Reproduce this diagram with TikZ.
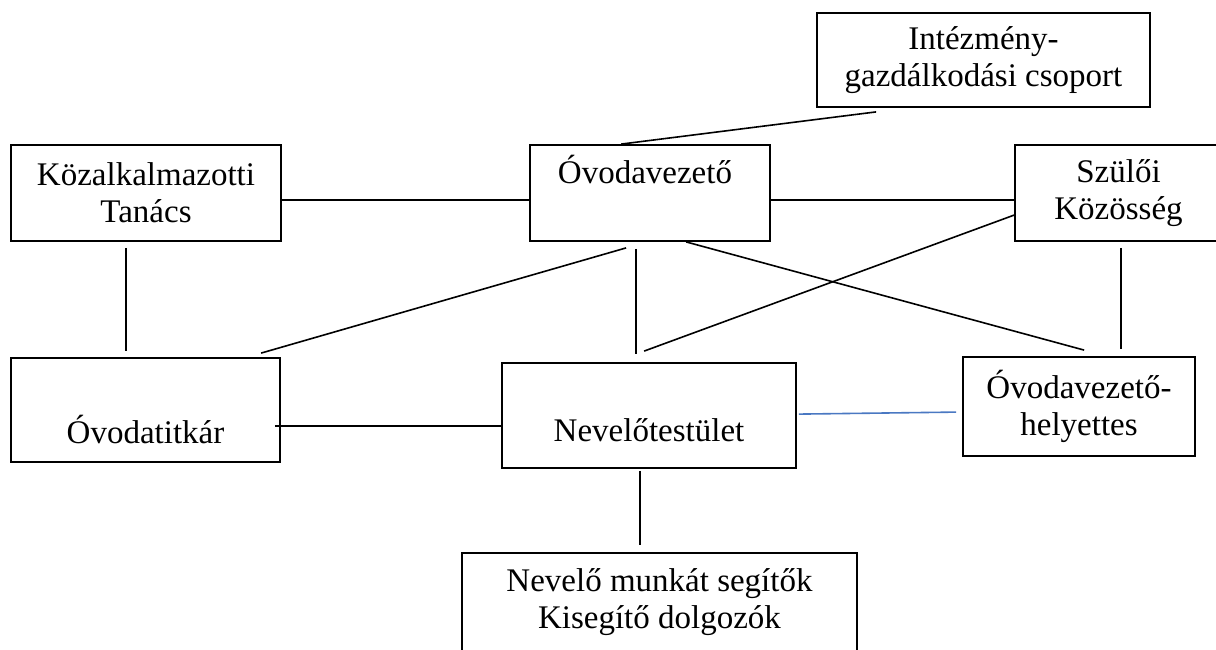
\documentclass[tikz,border=0pt]{standalone}
\usepackage{fontspec}
\setmainfont{Liberation Serif}
\usetikzlibrary{calc}
\definecolor{lnblue}{HTML}{4A78C2}
\begin{document}
\begin{tikzpicture}[x=1pt,y=-1pt,
  box/.style={draw, line width=1.8pt, rectangle, inner sep=0pt, align=center,
    font=\fontsize{33pt}{37pt}\selectfont},
  txt/.style={inner sep=0pt, align=center, font=\fontsize{33pt}{37pt}\selectfont},
  conn/.style={line width=1.6pt},
  bconn/.style={line width=1.6pt, draw=lnblue}]
\fill[white] (0,0) rectangle (1216,650);
\useasboundingbox (0,0) rectangle (1216,650);

% boxes
\node[box, minimum width=333pt, minimum height=94pt] (inst) at (983.5,60) {Intézmény-\\gazdálkodási csoport};
\node[box, minimum width=270pt, minimum height=96pt] (kozal) at (146,193) {Közalkalmazotti\\Tanács};
\node[box, minimum width=240pt, minimum height=96pt] (ovez) at (650,193) {Óvodavezető\hspace*{10pt}\\\strut};
\node[box, minimum width=207pt, minimum height=96pt] (szulo) at (1118.5,193) {Szülői\\Közösség};
\node[box, minimum width=269pt, minimum height=104pt] (titk) at (145.5,410) {\strut\\Óvodatitkár};
\node[box, minimum width=294pt, minimum height=105pt] (nev) at (649,415.5) {\strut\\[-10pt]Nevelőtestület};
\node[box, minimum width=232pt, minimum height=99pt] (hely) at (1079,406.5) {Óvodavezető-\\helyettes};
\node[box, minimum width=395pt, minimum height=160pt] (seg) at (659.5,633) {};
\node[txt] (segt) at (659.5,602) {Nevelő munkát segítők\\Kisegítő dolgozók};

% connectors
\draw[conn] ($(kozal.east)+(0,7)$) -- ($(ovez.west)+(0,7)$);
\draw[conn] ($(ovez.east)+(0,7)$) -- ($(szulo.west)+(0,7)$);
\draw[conn] ($(ovez.north west)+(92,0)$) -- ($(inst.south west)+(60,4)$);
\draw[conn] ($(kozal.south west)+(116,6)$) -- ($(titk.north west)+(116,-6)$);
\draw[conn] ($(titk.north west)+(251,-4)$) -- ($(ovez.south west)+(97,6)$);
\draw[conn] ($(ovez.south west)+(107,7)$) -- ($(nev.north west)+(135,-8)$);
\draw[conn] ($(ovez.south west)+(157,0)$) -- ($(hely.north west)+(122,-6)$);
\draw[conn] ($(szulo.north west)+(0,71)$) -- ($(nev.north west)+(143,-11)$);
\draw[conn] ($(szulo.south west)+(107,6)$) -- ($(hely.north west)+(159,-7)$);
\draw[conn] ($(titk.north east)+(-6,69)$) -- ($(nev.north west)+(2,64)$);
\draw[bconn] ($(nev.north east)+(2,52)$) -- ($(hely.north west)+(-6,56)$);
\draw[conn] ($(nev.south west)+(139,2)$) -- ($(seg.north west)+(179,-7)$);
\end{tikzpicture}
\end{document}
